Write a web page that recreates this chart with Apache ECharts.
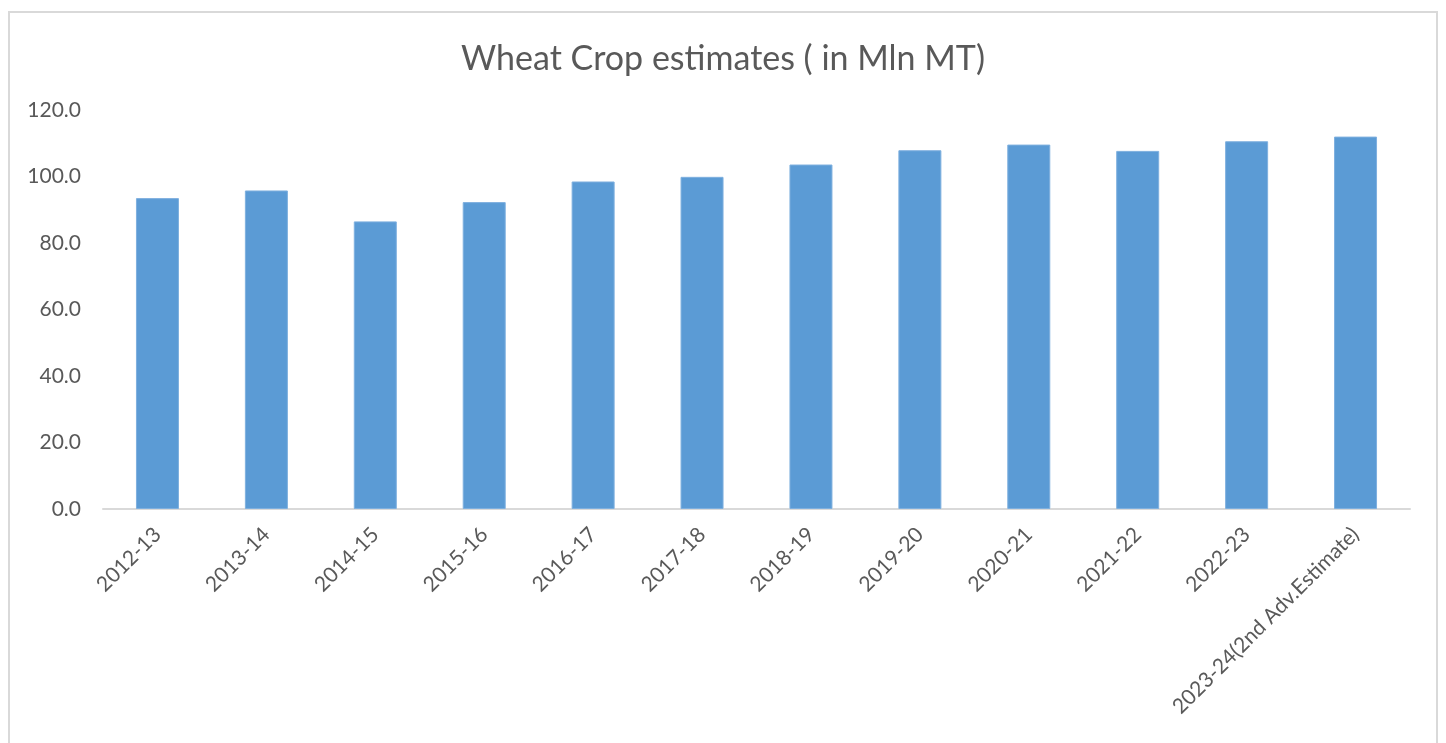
<!DOCTYPE html>
<html>
<head>
<meta charset="utf-8">
<script src="https://cdn.jsdelivr.net/npm/echarts@6/dist/echarts.min.js"></script>
<style>
html,body{margin:0;padding:0;background:#fff;overflow:hidden;}
#frame{position:absolute;left:8px;top:11px;width:1430px;height:800px;border:2px solid #d9d9d9;box-sizing:border-box;}
#chart{position:absolute;left:0;top:0;width:1446px;height:743px;}
</style>
</head>
<body>
<div id="frame"></div>
<div id="chart"></div>
<script>
const categories = ["2012-13","2013-14","2014-15","2015-16","2016-17","2017-18","2018-19","2019-20","2020-21","2021-22","2022-23","2023-24(2nd Adv.Estimate)"];
const wheatProduction = [93.5, 95.8, 86.5, 92.3, 98.5, 99.9, 103.6, 107.9, 109.6, 107.7, 110.6, 112.0];
const yTicks = {min: 0, max: 120, interval: 20};
const titleText = "Wheat Crop estimates ( in Mln MT)";

const chart = echarts.init(document.getElementById('chart'), null, {renderer:'canvas'});
const font = "Lato, 'Open Sans', 'Noto Sans', sans-serif";
chart.setOption({
  backgroundColor: 'transparent',
  animation: false,
  title: {
    text: titleText,
    left: 'center',
    top: 37,
    textStyle: {fontFamily: font, fontSize: 34, fontWeight: 'normal', color: '#595959'}
  },
  grid: {left: 103, right: 36, top: 110, bottom: 234, containLabel: false},
  xAxis: {
    type: 'category',
    data: categories,
    axisLine: {lineStyle: {color: '#d9d9d9', width: 2}},
    axisTick: {show: false},
    axisLabel: {rotate: 45, interval: 0, margin: 22, fontFamily: font, fontSize: 21, color: '#595959'}
  },
  yAxis: {
    type: 'value',
    min: yTicks.min, max: yTicks.max, interval: yTicks.interval,
    axisLine: {show: false},
    axisTick: {show: false},
    splitLine: {show: false},
    axisLabel: {formatter: v => v.toFixed(1), margin: 22, fontFamily: font, fontSize: 21, color: '#595959'}
  },
  series: [{
    type: 'bar',
    data: wheatProduction,
    barWidth: 43,
    itemStyle: {color: '#5b9bd5', borderColor: '#7fb0df', borderWidth: 1}
  }]
});
</script>
</body>
</html>
